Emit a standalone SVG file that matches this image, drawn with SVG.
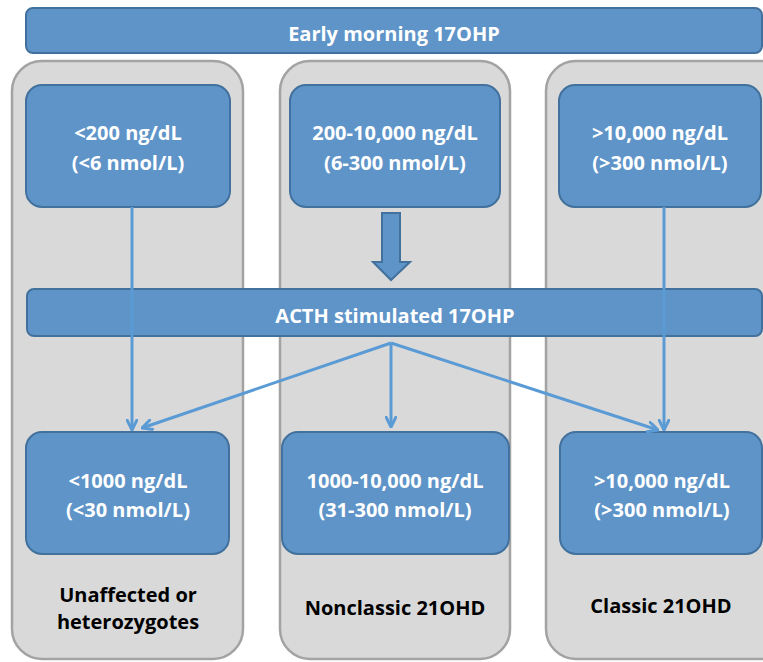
<svg xmlns="http://www.w3.org/2000/svg" width="763" height="662" viewBox="0 0 763 662">
<style>
.panel{fill:#d9d9d9;stroke:#a3a3a3;stroke-width:2.5}
.box{fill:#5e94c8;stroke:#41719c;stroke-width:2}
.wt{font-family:"Open Sans","Liberation Sans",sans-serif;font-weight:700;font-size:20px;fill:#ffffff;text-anchor:middle}
.bt{font-family:"Open Sans","Liberation Sans",sans-serif;font-weight:700;font-size:20px;fill:#000000;text-anchor:middle}
.con{stroke:#5b9bd5;stroke-width:3;fill:none}
</style>
<defs>
<marker id="ah" viewBox="0 0 12 12" refX="11" refY="6" markerWidth="12" markerHeight="12" markerUnits="userSpaceOnUse" orient="auto">
<path d="M1,1 L11,6 L1,11" fill="none" stroke="#5b9bd5" stroke-width="3" stroke-linecap="round" stroke-linejoin="round"/>
</marker>
</defs>
<rect width="763" height="662" fill="#ffffff"/>
<g id="panel-left"><rect class="panel" x="12" y="61" width="231" height="598" rx="30"/></g>
<g id="panel-mid"><rect class="panel" x="280" y="61" width="230" height="598" rx="30"/></g>
<g id="panel-right"><rect class="panel" x="546" y="61" width="250" height="598" rx="30"/></g>
<g id="early"><rect class="box" x="26" y="8" width="736" height="45" rx="7"/><text class="wt" x="394" y="41">Early morning 17OHP</text></g>
<g id="top-left"><rect class="box" x="26" y="85" width="204" height="122" rx="16"/><text class="wt" x="128" y="140">&lt;200 ng/dL</text><text class="wt" x="128" y="170">(&lt;6 nmol/L)</text></g>
<g id="top-mid"><rect class="box" x="290" y="85" width="210" height="122" rx="16"/><text class="wt" x="395" y="140">200-10,000 ng/dL</text><text class="wt" x="395" y="170">(6-300 nmol/L)</text></g>
<g id="top-right"><rect class="box" x="559" y="85" width="202" height="122" rx="16"/><text class="wt" x="660" y="140">&gt;10,000 ng/dL</text><text class="wt" x="660" y="170">(&gt;300 nmol/L)</text></g>
<g id="block-arrow"><path d="M382,213 L400,213 L400,262 L410,262 L391,280 L373,262 L382,262 Z" fill="#5e94c8" stroke="#41719c" stroke-width="2"/></g>
<g id="acth"><rect class="box" x="27" y="289" width="735" height="47" rx="7"/><text class="wt" x="395" y="323">ACTH stimulated 17OHP</text></g>
<g id="bot-left"><rect class="box" x="26" y="432" width="203" height="122" rx="16"/><text class="wt" x="128" y="488">&lt;1000 ng/dL</text><text class="wt" x="128" y="517">(&lt;30 nmol/L)</text></g>
<g id="bot-mid"><rect class="box" x="282" y="432" width="227" height="122" rx="16"/><text class="wt" x="395" y="488">1000-10,000 ng/dL</text><text class="wt" x="395" y="517">(31-300 nmol/L)</text></g>
<g id="bot-right"><rect class="box" x="560" y="432" width="202" height="122" rx="16"/><text class="wt" x="662" y="488">&gt;10,000 ng/dL</text><text class="wt" x="662" y="517">(&gt;300 nmol/L)</text></g>
<g id="connectors">
<line class="con" x1="132" y1="207" x2="132" y2="430" marker-end="url(#ah)"/>
<line class="con" x1="664" y1="207" x2="664" y2="430" marker-end="url(#ah)"/>
<line class="con" x1="391" y1="343" x2="142" y2="428" marker-end="url(#ah)"/>
<line class="con" x1="391" y1="343" x2="391" y2="427" marker-end="url(#ah)"/>
<line class="con" x1="391" y1="343" x2="658" y2="430" marker-end="url(#ah)"/>
</g>
<g id="labels">
<text class="bt" x="128" y="602">Unaffected or</text>
<text class="bt" x="128" y="629">heterozygotes</text>
<text class="bt" x="395" y="615">Nonclassic 21OHD</text>
<text class="bt" x="661" y="613">Classic 21OHD</text>
</g>
</svg>
